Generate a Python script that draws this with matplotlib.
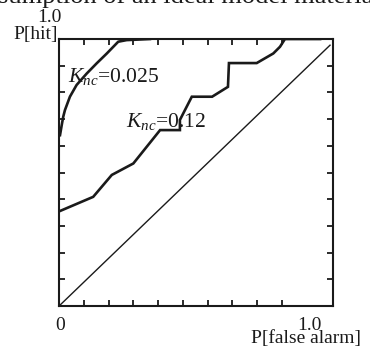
import matplotlib
matplotlib.use('Agg')
import matplotlib.pyplot as plt

plt.rcParams['font.family'] = ['Liberation Serif', 'DejaVu Serif']
plt.rcParams['mathtext.fontset'] = 'custom'
plt.rcParams['mathtext.it'] = 'Liberation Serif:italic'
plt.rcParams['mathtext.rm'] = 'Liberation Serif'

# ROC curves
fa_025 = [0.004, 0.011, 0.017, 0.024, 0.044, 0.071, 0.112, 0.152, 0.193, 0.239, 0.273, 0.367]
hit_025 = [0.640, 0.678, 0.709, 0.734, 0.784, 0.828, 0.871, 0.909, 0.946, 0.990, 0.996, 1.000]
fa_12 = [0.004, 0.138, 0.213, 0.300, 0.408, 0.488, 0.488, 0.536, 0.618, 0.682, 0.686, 0.798, 0.865, 0.892, 0.912, 1.054]
hit_12 = [0.356, 0.409, 0.491, 0.534, 0.659, 0.659, 0.697, 0.784, 0.784, 0.821, 0.910, 0.910, 0.946, 0.971, 1.000, 1.000]
chance_x = [0.0, 1.094]
chance_y = [0.0, 0.977]

fig = plt.figure(figsize=(3.7, 3.47), dpi=100)
ax = fig.add_axes([0.1595, 0.118, 0.7405, 0.7695])

ax.plot(fa_025, hit_025, color='#1a1a1a', lw=1.9, solid_joinstyle='round')
ax.plot(fa_12, hit_12, color='#1a1a1a', lw=1.9, solid_joinstyle='miter')
ax.plot(chance_x, chance_y, color='#1a1a1a', lw=1.0)

ax.set_xlim(0, 1.106)
ax.set_ylim(0, 1.0)
ax.set_xticks([i / 10 for i in range(1, 10)])
ax.set_yticks([i / 10 for i in range(1, 10)])
ax.tick_params(direction='in', length=4, width=1.3, top=True, right=True,
               labelbottom=False, labelleft=False, color='#1a1a1a')
for s in ax.spines.values():
    s.set_linewidth(1.5)
    s.set_color('#1a1a1a')

tc = '#1a1a1a'
ax.text(0.036, 0.86, r'$K_{nc}$=0.025', fontsize=15.5, color=tc, va='center')
ax.text(0.27, 0.69, r'$K_{nc}$=0.12', fontsize=15.5, color=tc, va='center')

fig.text(49 / 370, 1 - 18 / 347, '1.0', fontsize=14, color=tc, ha='center', va='center')
fig.text(58 / 370, 1 - 34 / 347, 'P[hit]', fontsize=14, color=tc, ha='right', va='center')
fig.text(60 / 370, 1 - 326 / 347, '0', fontsize=14, color=tc, ha='center', va='center')
fig.text(309 / 370, 1 - 325 / 347, '1.0', fontsize=14, color=tc, ha='center', va='center')
fig.text(306 / 370, 1 - 339 / 347, 'P[false alarm]', fontsize=14, color=tc, ha='center', va='center')
fig.text(-2 / 370, 1 - 3 / 347, 'sumption of an ideal model material.', fontsize=19,
         color=tc, ha='left', va='baseline')

fig.savefig('out.png', dpi=100)
